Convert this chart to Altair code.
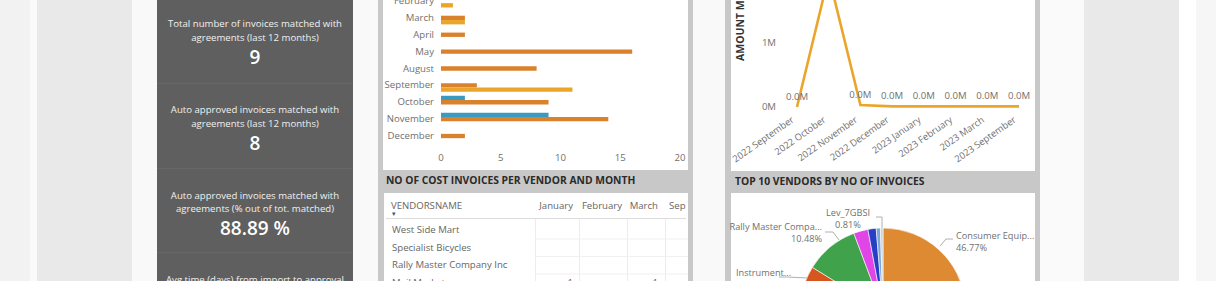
import altair as alt
import pandas as pd

W, H = 1216, 281
FONT = "Open Sans"

# ---------------- data ----------------
KPI_LINE_1 = ["Total number of invoices matched with",
              "Auto approved invoices matched with",
              "Auto approved invoices matched with",
              "Avg time (days) from import to approval"]
KPI_LINE_2 = ["agreements (last 12 months)",
              "agreements (last 12 months)",
              "agreements (% out of tot. matched)",
              ""]
KPI_VALUE = ["9", "8", "88.89 %", ""]

BAR_MONTHS = ["February", "March", "April", "May", "August",
              "September", "October", "November", "December"]
BAR_SERIES = ["Series 1", "Series 2", "Series 3"]
BAR_S1 = [None, None, None, None, None, None, 2, 9, None]
BAR_S2 = [None, 2, 2, 16, 8, 3, 9, 14, 2]
BAR_S3 = [1, 2, None, None, None, 11, None, None, None]
BAR_TICKS = [0, 5, 10, 15, 20]
BAR_COLORS = ["#3A9AC2", "#D9822B", "#EBA52A"]

LINE_PERIODS = ["2022 September", "2022 October", "2022 November", "2022 December",
                "2023 January", "2023 February", "2023 March", "2023 September"]
LINE_AMOUNT_M = [0.0, 2.05, 0.03, 0.01, 0.01, 0.01, 0.01, 0.01]
LINE_TICKS = [0, 1]
LINE_TITLE = "AMOUNT MSEK"

PIE_VENDORS = ["Consumer Equip...", "Bike World", "Metro Sports", "Sport Fan Co",
               "Instrument...", "Rally Master Compa...", "Vendor M", "Vendor B",
               "Lev_7GBSI", "Vendor L"]
PIE_SHARE = [46.77, 12.10, 8.87, 7.26, 8.81, 10.48, 2.80, 1.60, 0.81, 0.50]
PIE_COLORS = ["#DE8A33", "#3A9AC2", "#EBA52A", "#8C5CB0", "#D6561F", "#40A34B",
              "#E046E6", "#2540C4", "#7EA6D4", "#D0D0D0"]

TABLE_TITLE = "NO OF COST INVOICES PER VENDOR AND MONTH"
PIE_TITLE = "TOP 10 VENDORS BY NO OF INVOICES"
TABLE_HEADER = "VENDORSNAME"
TABLE_COLUMNS = ["January", "February", "March", "September"]
TABLE_VENDORS = ["West Side Mart", "Specialist Bicycles", "Rally Master Company Inc", "Mail Market"]
TABLE_VALUES = [[None, None, None, None],
                [None, None, None, None],
                [None, None, None, None],
                [1, None, 1, None]]

# ---------------- layout (dashboard chrome, pixels) ----------------
PANELS = [
    (0, 30, 0, 281, "#f2f2f2"), (30, 37, 0, 281, "#fafafa"), (37, 132, 0, 281, "#e9e9e9"),
    (132, 378, 0, 281, "#f9f9f9"), (157, 353, 0, 281, "#5f5f5f"),
    (157, 353, 83, 84, "#676767"), (157, 353, 168, 169, "#676767"), (157, 353, 252, 253, "#676767"),
    (378, 693, 0, 281, "#c8c8c8"), (383, 688, 0, 170, "#ffffff"), (384, 688, 193, 281, "#ffffff"),
    (693, 725, 0, 281, "#f9f9f9"),
    (725, 1040, 0, 281, "#c8c8c8"), (731, 1035, 0, 171, "#ffffff"), (731, 1035, 193, 281, "#ffffff"),
    (1040, 1084, 0, 281, "#fafafa"), (1084, 1179, 0, 281, "#e9e9e9"),
    (1179, 1196, 0, 281, "#ffffff"), (1196, 1216, 0, 281, "#f6f6f6"),
]
KPI_X = 255
KPI_Y = [(24, 38, 58), (110, 124, 144), (196, 209, 229), (280, 294, 314)]
BAR_Y_RANGE = [-7.45, 144.45]
BAR_X_RANGE = [441, 680]
LINE_X_RANGE = [797, 1019]
LINE_Y_RANGE = [107, 43]
PIE_CENTER = (883, 311)
PIE_R = 83
PIE_LABEL_POS = {
    "Consumer Equip...": (956, 236, "left"),
    "Lev_7GBSI": (848, 213, "center"),
    "Rally Master Compa...": (822, 227, "right"),
    "Instrument...": (736, 273, "left"),
}
PIE_LEADERS = [
    ("a", [(940, 246), (946, 239), (953, 239)]),
    ("b", [(876, 217), (882, 217), (882, 228)]),
    ("c", [(825, 232), (833, 232), (839, 240)]),
    ("d", [(779, 277), (787, 277), (808, 278)]),
]
TABLE_COL_X = {"January": (573, "right"), "February": (622, "right"),
               "March": (658, "right"), "September": (669, "left")}
TABLE_ROW_Y = [230, 247.5, 265, 282.5]
TABLE_VLINES = [535, 579, 627, 665]
TABLE_HLINES = [238.5, 256, 273.5]

# ---------------- background ----------------
bg_df = pd.DataFrame([dict(x0=a, x1=b, y0=c, y1=d, col=e, i=k) for k, (a, b, c, d, e) in enumerate(PANELS)])
bg = alt.Chart(bg_df).mark_rect().encode(
    x=alt.X("x0:Q", scale=None), x2="x1:Q",
    y=alt.Y("y0:Q", scale=None), y2="y1:Q",
    fill=alt.Fill("col:N", scale=None),
)

# ---------------- KPI texts ----------------
kpi_rows = []
for i in range(4):
    y1, y2, y3 = KPI_Y[i]
    kpi_rows.append(dict(t=KPI_LINE_1[i], y=y1, kind="label"))
    kpi_rows.append(dict(t=KPI_LINE_2[i], y=y2, kind="label"))
    kpi_rows.append(dict(t=KPI_VALUE[i], y=y3, kind="value"))
kpi_df = pd.DataFrame(kpi_rows)
kpi_labels = alt.Chart(kpi_df).transform_filter("datum.kind == 'label'").mark_text(
    font=FONT, fontSize=9.6, color="#f0f0f0", align="center", baseline="middle"
).encode(x=alt.value(KPI_X), y=alt.Y("y:Q", scale=None), text="t:N")
kpi_values = alt.Chart(kpi_df).transform_filter("datum.kind == 'value'").mark_text(
    font=FONT, fontSize=19, fontWeight=600, color="#ffffff", align="center", baseline="middle"
).encode(x=alt.value(KPI_X), y=alt.Y("y:Q", scale=None), text="t:N")

# ---------------- bar chart ----------------
bar_rows = []
for i, m in enumerate(BAR_MONTHS):
    for s, vals in zip(BAR_SERIES, [BAR_S1, BAR_S2, BAR_S3]):
        if vals[i] is not None:
            bar_rows.append(dict(month=m, series=s, value=vals[i]))
bar_df = pd.DataFrame(bar_rows)
ybar = alt.Scale(domain=BAR_MONTHS, range=BAR_Y_RANGE, paddingInner=0, paddingOuter=0)
xbar = alt.Scale(domain=[0, 20], range=BAR_X_RANGE, nice=False, zero=True)
bars = alt.Chart(bar_df).mark_bar().encode(
    x=alt.X("value:Q", scale=xbar, axis=None),
    y=alt.Y("month:N", scale=ybar, axis=None, sort=BAR_MONTHS),
    yOffset=alt.YOffset("series:N", sort=BAR_SERIES,
                        scale=alt.Scale(domain=BAR_SERIES, paddingInner=0, paddingOuter=0.45)),
    color=alt.Color("series:N", scale=alt.Scale(domain=BAR_SERIES, range=BAR_COLORS), legend=None),
)
month_lbl = alt.Chart(pd.DataFrame({"month": BAR_MONTHS})).mark_text(
    font=FONT, fontSize=9.6, color="#707070", align="right", baseline="middle"
).encode(y=alt.Y("month:N", scale=ybar, axis=None, sort=BAR_MONTHS), x=alt.value(434), text="month:N")
bar_tick = alt.Chart(pd.DataFrame({"t": BAR_TICKS})).mark_text(
    font=FONT, fontSize=9.6, color="#707070", align="center", baseline="middle"
).encode(x=alt.X("t:Q", scale=xbar, axis=None), y=alt.value(158), text="t:Q")
bar_group = alt.layer(bars, month_lbl, bar_tick)

# ---------------- line chart ----------------
line_df = pd.DataFrame({"period": LINE_PERIODS, "amount": LINE_AMOUNT_M})
xl = alt.Scale(type="point", domain=LINE_PERIODS, range=LINE_X_RANGE, padding=0)
yl = alt.Scale(domain=[0, 1], range=LINE_Y_RANGE, nice=False, zero=False)
line = alt.Chart(line_df).mark_line(color="#EBA52A", strokeWidth=2.6).encode(
    x=alt.X("period:N", scale=xl, axis=None, sort=LINE_PERIODS),
    y=alt.Y("amount:Q", scale=yl, axis=None),
)
line_vals = alt.Chart(line_df).transform_calculate(
    lab="format(datum.amount, '.1f') + 'M'"
).mark_text(font=FONT, fontSize=9.6, color="#707070", align="center", baseline="middle", dy=-10).encode(
    x=alt.X("period:N", scale=xl, axis=None, sort=LINE_PERIODS),
    y=alt.Y("amount:Q", scale=yl, axis=None),
    text="lab:N",
)
line_xlab = alt.Chart(line_df).mark_text(
    font=FONT, fontSize=9.4, color="#707070", align="right", baseline="middle", angle=325, dx=-5
).encode(x=alt.X("period:N", scale=xl, axis=None, sort=LINE_PERIODS), y=alt.value(116), text="period:N")
line_ytick = alt.Chart(pd.DataFrame({"t": LINE_TICKS})).transform_calculate(
    lab="datum.t + 'M'"
).mark_text(font=FONT, fontSize=9.6, color="#707070", align="right", baseline="middle").encode(
    y=alt.Y("t:Q", scale=yl, axis=None), x=alt.value(776), text="lab:N")
line_title = alt.Chart(pd.DataFrame({"t": [LINE_TITLE]})).mark_text(
    font=FONT, fontSize=10.5, fontWeight="bold", color="#333333", align="left", baseline="middle", angle=270
).encode(x=alt.value(741), y=alt.value(61), text="t:N")
line_group = alt.layer(line, line_vals, line_xlab, line_ytick, line_title)

# ---------------- pie chart ----------------
pie_df = pd.DataFrame({"vendor": PIE_VENDORS, "share": PIE_SHARE, "k": list(range(len(PIE_VENDORS)))})
pie = alt.Chart(pie_df).mark_arc(radius=PIE_R, stroke="white", strokeWidth=0.6).encode(
    theta=alt.Theta("share:Q", stack=True),
    order=alt.Order("k:Q"),
    color=alt.Color("vendor:N", scale=alt.Scale(domain=PIE_VENDORS, range=PIE_COLORS), legend=None),
    x=alt.value(PIE_CENTER[0]), y=alt.value(PIE_CENTER[1]),
)
plab_rows = []
for v, s in zip(PIE_VENDORS, PIE_SHARE):
    if v in PIE_LABEL_POS:
        lx, ly, al = PIE_LABEL_POS[v]
        plab_rows.append(dict(t=v, x=lx, y=ly, al=al))
        plab_rows.append(dict(t=f"{s:.2f}%", x=lx, y=ly + 12, al=al))
plab_df = pd.DataFrame(plab_rows)
pie_labels = [
    alt.Chart(plab_df).transform_filter(f"datum.al == '{al}'").mark_text(
        font=FONT, fontSize=9.2, color="#707070", align=al, baseline="middle"
    ).encode(x=alt.X("x:Q", scale=None), y=alt.Y("y:Q", scale=None), text="t:N")
    for al in ["left", "center", "right"]
]
lead_df = pd.DataFrame([dict(g=g, x=x, y=y, k=j) for g, pts in PIE_LEADERS for j, (x, y) in enumerate(pts)])
leaders = alt.Chart(lead_df).mark_line(color="#b0b0b0", strokeWidth=1).encode(
    x=alt.X("x:Q", scale=None), y=alt.Y("y:Q", scale=None), detail="g:N", order="k:Q")
pie_group = alt.layer(pie, leaders, *pie_labels)

# ---------------- table ----------------
grid_rows = []
for x in TABLE_VLINES:
    grid_rows.append(dict(x0=x, x1=x + 1, y0=219, y1=281, c="#ececec"))
for y in TABLE_HLINES:
    grid_rows.append(dict(x0=535, x1=688, y0=y, y1=y + 1, c="#f0f0f0"))
grid_rows.append(dict(x0=386, x1=686, y0=218, y1=219, c="#dcdcdc"))
grid_df = pd.DataFrame(grid_rows)
grid = alt.Chart(grid_df).mark_rect().encode(
    x=alt.X("x0:Q", scale=None), x2="x1:Q", y=alt.Y("y0:Q", scale=None), y2="y1:Q",
    fill=alt.Fill("c:N", scale=None))

cell_rows = [dict(t=TABLE_HEADER, x=391, y=206, al="left")]
for c in TABLE_COLUMNS:
    cx, al = TABLE_COL_X[c]
    cell_rows.append(dict(t=c, x=cx, y=206, al=al))
for r, v in enumerate(TABLE_VENDORS):
    cell_rows.append(dict(t=v, x=392, y=TABLE_ROW_Y[r], al="left"))
    for ci, c in enumerate(TABLE_COLUMNS):
        val = TABLE_VALUES[r][ci]
        if val is not None:
            cx, al = TABLE_COL_X[c]
            cell_rows.append(dict(t=str(val), x=cx, y=TABLE_ROW_Y[r], al=al))
cell_df = pd.DataFrame(cell_rows)
table_text = []
for al in ["left", "right"]:
    table_text.append(
        alt.Chart(cell_df).transform_filter(f"datum.al == '{al}' && datum.x < 669").mark_text(
            font=FONT, fontSize=9.6, color="#666666", align=al, baseline="middle"
        ).encode(x=alt.X("x:Q", scale=None), y=alt.Y("y:Q", scale=None), text="t:N"))
# the last column is cut by the table's right edge: show only its start
table_text.append(
    alt.Chart(cell_df).transform_filter("datum.x >= 669").transform_calculate(
        short="substring(datum.t, 0, 3)"
    ).mark_text(
        font=FONT, fontSize=9.6, color="#666666", align="left", baseline="middle"
    ).encode(x=alt.X("x:Q", scale=None), y=alt.Y("y:Q", scale=None), text="short:N"))
sort_arrow = alt.Chart(pd.DataFrame({"t": ["▾"]})).mark_text(
    font="DejaVu Sans", fontSize=7, color="#555555", align="left", baseline="middle"
).encode(x=alt.value(392), y=alt.value(214), text="t:N")

titles_df = pd.DataFrame([dict(t=TABLE_TITLE, x=386, y=181), dict(t=PIE_TITLE, x=735, y=182)])
titles = alt.Chart(titles_df).mark_text(
    font=FONT, fontSize=10.3, fontWeight="bold", color="#2b2b2b", align="left", baseline="middle"
).encode(x=alt.X("x:Q", scale=None), y=alt.Y("y:Q", scale=None), text="t:N")

chart = alt.layer(
    bg, kpi_labels, kpi_values, bar_group, line_group, pie_group, grid, *table_text, sort_arrow, titles
).resolve_scale(
    x="independent", y="independent", color="independent", theta="independent"
).properties(
    width=W, height=H, autosize="none", padding=0, background="#ffffff"
).configure_view(stroke=None)

chart.save("out.html", embed_options={"renderer": "svg", "actions": False})
